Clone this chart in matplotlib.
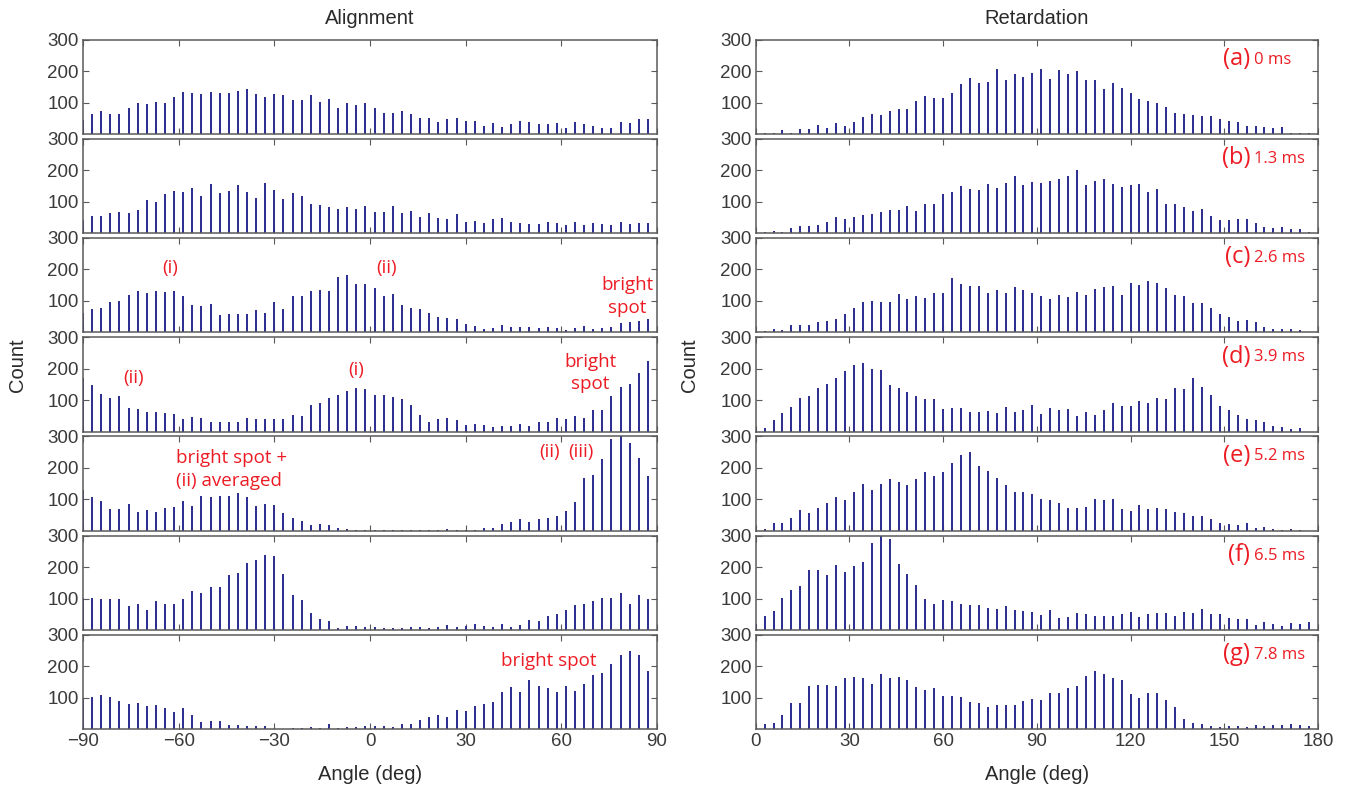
import numpy as np
import matplotlib
matplotlib.use("Agg")
import matplotlib.pyplot as plt

plt.rcParams['font.family'] = ['Liberation Sans', 'DejaVu Sans']

# histogram counts per angular bin, alignment stage (angles -90..90)
align_1 = [46, 65, 73, 63, 63, 82, 98, 95, 101, 98, 117, 133, 129, 126, 133, 129, 129, 136, 142, 126,
           117, 126, 123, 107, 107, 123, 101, 110, 82, 98, 92, 98, 82, 66, 66, 73, 63, 50, 50, 38,
           47, 50, 41, 41, 25, 35, 22, 32, 41, 38, 32, 32, 35, 19, 38, 32, 25, 19, 19, 38, 35, 47, 47]
align_2 = [43, 56, 56, 63, 66, 63, 75, 104, 100, 125, 135, 132, 144, 119, 157, 129, 135, 154, 132, 113,
           160, 138, 107, 129, 119, 94, 91, 82, 78, 82, 78, 85, 66, 66, 85, 63, 69, 53, 63, 47,
           44, 60, 34, 38, 31, 44, 47, 34, 31, 28, 28, 34, 31, 25, 34, 25, 31, 28, 25, 34, 28, 31, 31]
align_3 = [61, 73, 79, 96, 99, 118, 131, 124, 131, 128, 131, 115, 86, 83, 89, 54, 57, 60, 60, 70,
           63, 95, 73, 115, 115, 131, 134, 131, 176, 182, 153, 153, 140, 115, 121, 86, 76, 73, 63, 50,
           47, 44, 28, 21, 12, 15, 25, 18, 18, 18, 15, 17, 15, 9, 15, 21, 12, 15, 18, 31, 34, 36, 41]
align_4 = [170, 149, 120, 108, 114, 76, 73, 63, 63, 60, 57, 41, 47, 44, 32, 32, 29, 29, 44, 41,
           41, 41, 41, 54, 51, 86, 92, 108, 117, 130, 139, 136, 117, 117, 111, 105, 86, 54, 29, 41,
           44, 38, 22, 25, 22, 16, 19, 19, 25, 19, 32, 32, 44, 41, 51, 44, 67, 70, 114, 143, 152, 187, 225]
align_5 = [129, 108, 95, 70, 70, 86, 61, 67, 61, 73, 76, 95, 80, 111, 108, 111, 111, 120, 108, 80,
           86, 83, 58, 42, 32, 17, 21, 17, 10, 7, 4, 4, 4, 4, 4, 2, 4, 4, 4, 4,
           7, 4, 4, 4, 10, 10, 23, 29, 36, 27, 39, 42, 48, 64, 92, 168, 177, 228, 290, 300, 278, 231, 174]
align_6 = [102, 103, 100, 100, 100, 75, 81, 65, 91, 81, 84, 100, 123, 119, 136, 136, 174, 180, 212, 222,
           238, 235, 177, 110, 94, 55, 36, 27, 7, 14, 14, 11, 11, 7, 7, 7, 11, 11, 7, 11,
           17, 11, 14, 20, 14, 11, 20, 11, 17, 33, 27, 46, 52, 62, 78, 81, 91, 103, 103, 116, 81, 110, 100]
align_7 = [100, 102, 108, 102, 89, 80, 83, 73, 76, 67, 55, 67, 45, 23, 26, 26, 14, 14, 10, 10,
           10, 1, 1, 4, 4, 7, 4, 17, 4, 7, 7, 10, 10, 10, 7, 17, 17, 29, 39, 45,
           39, 61, 58, 73, 80, 86, 118, 133, 118, 155, 136, 130, 118, 136, 121, 143, 171, 177, 206, 237, 247, 237, 184]

# retardation stage (angles 0..180)
retard_a = [0, 3, 3, 14, 2, 17, 17, 30, 20, 35, 26, 38, 55, 64, 61, 74, 80, 80, 106, 122,
            115, 115, 131, 158, 177, 161, 164, 205, 170, 189, 182, 195, 205, 176, 202, 189, 199, 173, 170, 144,
            161, 147, 131, 112, 106, 99, 87, 67, 64, 61, 58, 58, 48, 42, 38, 26, 26, 23, 20, 23, 3, 3, 3]
retard_b = [0, 3, 8, 3, 18, 24, 24, 27, 36, 52, 46, 52, 58, 61, 68, 74, 74, 86, 71, 93,
            93, 124, 130, 149, 140, 137, 155, 143, 158, 180, 153, 163, 160, 166, 172, 182, 200, 153, 165, 173,
            157, 147, 154, 156, 132, 141, 94, 92, 82, 70, 76, 54, 43, 43, 46, 44, 31, 21, 15, 21, 12, 12, 5]
retard_c = [0, 4, 10, 8, 25, 25, 24, 34, 37, 43, 60, 76, 97, 99, 96, 96, 122, 105, 115, 109,
            125, 125, 174, 154, 148, 148, 125, 135, 125, 145, 135, 125, 115, 105, 118, 112, 129, 118, 138, 145,
            148, 118, 158, 151, 164, 158, 141, 118, 115, 92, 92, 76, 60, 50, 37, 40, 34, 17, 11, 11, 11, 8, 1]
retard_d = [8, 12, 37, 59, 78, 107, 113, 139, 152, 171, 193, 212, 218, 199, 196, 148, 139, 126, 113, 104,
            104, 72, 75, 75, 63, 63, 66, 59, 78, 63, 69, 85, 56, 75, 69, 72, 50, 63, 53, 69,
            91, 82, 82, 98, 91, 107, 104, 139, 136, 171, 142, 117, 82, 69, 53, 40, 37, 31, 18, 15, 8, 12, 0]
retard_e = [0, 7, 26, 26, 42, 65, 56, 72, 88, 108, 98, 123, 147, 131, 150, 164, 154, 144, 164, 186,
            174, 186, 216, 242, 249, 206, 190, 167, 144, 124, 124, 118, 101, 98, 88, 72, 72, 75, 101, 98,
            101, 69, 62, 82, 69, 72, 69, 59, 56, 46, 46, 36, 26, 23, 20, 26, 10, 13, 7, 3, 7, 3, 0]
retard_f = [19, 45, 61, 102, 128, 141, 189, 192, 176, 205, 183, 202, 215, 275, 300, 288, 211, 179, 144, 99,
            83, 96, 93, 83, 80, 80, 70, 67, 77, 64, 61, 57, 48, 64, 38, 42, 54, 51, 45, 45,
            45, 51, 57, 42, 51, 54, 54, 45, 57, 54, 67, 51, 51, 38, 35, 35, 16, 26, 19, 13, 22, 19, 26]
retard_g = [0, 17, 20, 46, 82, 82, 137, 140, 140, 137, 161, 167, 163, 143, 176, 163, 166, 157, 133, 126,
            130, 104, 104, 101, 85, 82, 72, 78, 78, 78, 88, 95, 92, 114, 114, 130, 137, 169, 185, 175,
            163, 156, 111, 98, 114, 114, 92, 72, 33, 20, 17, 11, 8, 11, 11, 8, 14, 11, 14, 14, 17, 14, 11]

align_angles = np.linspace(-90, 90, 64)[:63]
retard_angles = np.linspace(0, 180, 64)[:63]

retard_tags = ["(a)", "(b)", "(c)", "(d)", "(e)", "(f)", "(g)"]
retard_times = ["0 ms", "1.3 ms", "2.6 ms", "3.9 ms", "5.2 ms", "6.5 ms", "7.8 ms"]

BAR = "#2e3192"
RED = "#ed1c24"
FRAME = "#5a5a5a"
W, H = 1348, 794


def panel(fig, left, right, top, xs, counts, xlim, xticks, bottom_row):
    ax = fig.add_axes([left / W, 1 - (top + 94.5) / H, (right - left) / W, 94.5 / H])
    # thin stems, 2 px wide
    ax.vlines(xs, 0, counts, colors=BAR, linewidth=1.44)
    ax.set_xlim(*xlim)
    ax.set_ylim(0, 300)
    ax.set_yticks([100, 200, 300])
    ax.set_xticks(xticks)
    ax.tick_params(direction="in", top=True, right=True, length=4, width=0.8,
                   color=FRAME, labelsize=13.5, labelcolor="#3a3a3a", pad=3)
    if not bottom_row:
        ax.set_xticklabels([])
    for s in ax.spines.values():
        s.set_color(FRAME)
        s.set_linewidth(1.1)
    return ax


fig = plt.figure(figsize=(W / 100, H / 100), dpi=100)

align_sets = [align_1, align_2, align_3, align_4, align_5, align_6, align_7]
retard_sets = [retard_a, retard_b, retard_c, retard_d, retard_e, retard_f, retard_g]

left_axes = []
right_axes = []
for i in range(7):
    top = 39.5 + 99.2 * i
    last = i == 6
    left_axes.append(panel(fig, 83, 657, top, align_angles, align_sets[i],
                           (-90, 90), range(-90, 91, 30), last))
    right_axes.append(panel(fig, 755.7, 1318, top, retard_angles, retard_sets[i],
                            (0, 180), range(0, 181, 30), last))

# labels on the alignment histograms
note = dict(color=RED, fontsize=13.5, family=["Open Sans", "DejaVu Sans"], ha="center", va="center")
left_axes[2].text(-62.7, 205, "(i)", **note)
left_axes[2].text(5.3, 205, "(ii)", **note)
left_axes[2].text(80.8, 115, "bright\nspot", linespacing=1.35, **note)
left_axes[3].text(-74.3, 170, "(ii)", **note)
left_axes[3].text(-4.4, 196, "(i)", **note)
left_axes[3].text(69.0, 186, "bright\nspot", linespacing=1.35, **note)
left_axes[4].text(-60.8, 196, "bright spot +\n(ii) averaged", linespacing=1.35,
                  **{**note, "ha": "left"})
left_axes[4].text(56.4, 250, "(ii)", **note)
left_axes[4].text(66.1, 250, "(iii)", **note)
left_axes[6].text(56.0, 218, "bright spot", **note)

# stage labels on the retardation histograms
for ax, tag, t in zip(right_axes, retard_tags, retard_times):
    ax.text(158.3, 238, tag, color=RED, fontsize=17, ha="right", va="center",
            family=["Open Sans", "DejaVu Sans"])
    ax.text(159.6, 236, t, color=RED, fontsize=12, ha="left", va="center",
            family=["Open Sans", "DejaVu Sans"])

txt = dict(fontsize=14.5, color="#2a2a2a", ha="center", va="center")
fig.text(370 / W, 1 - 18 / H, "Alignment", **txt)
fig.text(1037 / W, 1 - 18 / H, "Retardation", **txt)
fig.text(370 / W, 1 - 775 / H, "Angle (deg)", **txt)
fig.text(1037 / W, 1 - 775 / H, "Angle (deg)", **txt)
fig.text(18 / W, 1 - 365 / H, "Count", rotation=90, **txt)
fig.text(690 / W, 1 - 365 / H, "Count", rotation=90, **txt)

fig.savefig("out.png", dpi=100)
